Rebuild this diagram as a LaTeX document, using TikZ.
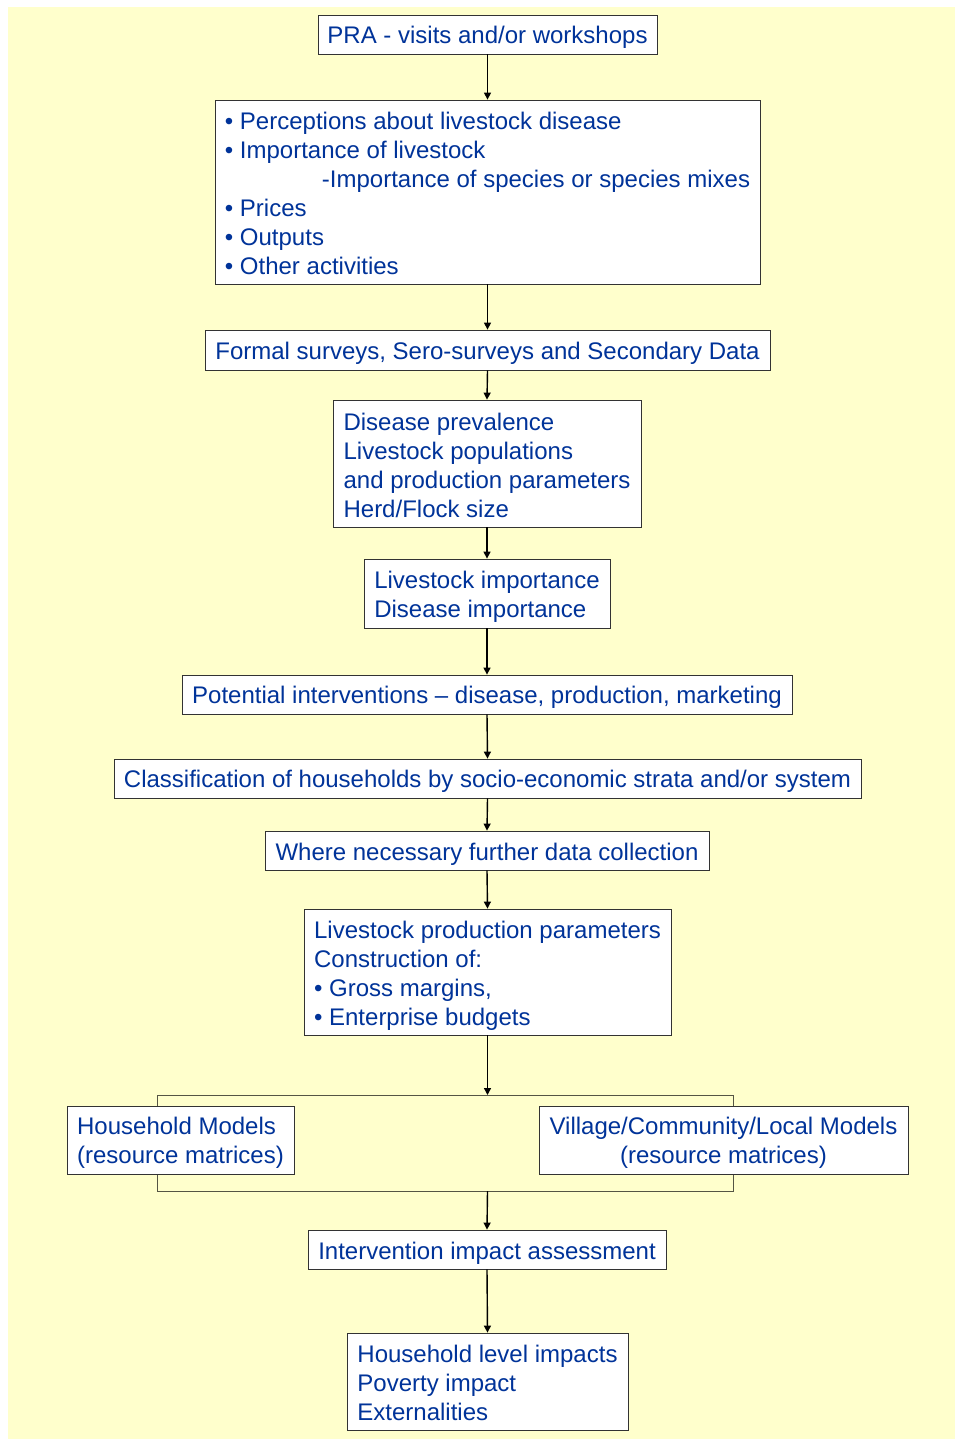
\documentclass[tikz,border=0pt]{standalone}
\usepackage{fontspec}
\setmainfont{Liberation Sans}
\usetikzlibrary{arrows.meta}
\definecolor{bgyellow}{HTML}{FFFFCC}
\definecolor{txtblue}{HTML}{003399}
\definecolor{boxline}{HTML}{333333}
\definecolor{barline}{HTML}{555544}
\begin{document}
\begin{tikzpicture}[x=1pt,y=1pt,
  frame/.style={draw=boxline, line width=0.8pt, fill=white, inner sep=0pt},
  txt/.style={text=txtblue, font=\fontsize{24}{29}\selectfont, align=left, inner sep=0pt},
  flow/.style={-{Triangle[length=7pt,width=7pt]}, line width=1.4pt, black},
  bar/.style={draw=barline, line width=1pt}
]
\useasboundingbox (0,0) rectangle (955,-1439);
\fill[white] (0,0) rectangle (955,-1439);
\fill[bgyellow] (8,-7) rectangle (955,-1439);

\node[frame, minimum width=339pt, minimum height=39pt] (pra) at (487.5,-34.5) {};
\node[txt] (prat) at ([yshift=-3pt]pra.center) {PRA - visits and/or workshops};

\node[frame, minimum width=545pt, minimum height=184pt] (perc) at (487.5,-192) {};
\node[txt] (perct) at ([yshift=-1pt]perc.center) {%
• Perceptions about livestock disease\\
• Importance of livestock\\
\hspace*{97pt}-Importance of species or species mixes\\
• Prices\\
• Outputs\\
• Other activities};

\node[frame, minimum width=565pt, minimum height=40pt] (formal) at (487.5,-350) {};
\node[txt] (formalt) at ([yshift=-3pt]formal.center) {Formal surveys, Sero-surveys and Secondary Data};

\node[frame, minimum width=308pt, minimum height=127pt] (prev) at (487,-463.5) {};
\node[txt] (prevt) at ([yshift=-2pt]prev.center) {Disease prevalence\\Livestock populations\\and production parameters\\Herd/Flock size};

\node[frame, minimum width=246pt, minimum height=69pt] (imp) at (487,-593.5) {};
\node[txt] (impt) at ([yshift=-3pt]imp.center) {Livestock importance\\Disease importance};

\node[frame, minimum width=610pt, minimum height=39pt] (pot) at (487,-694.5) {};
\node[txt] (pott) at ([yshift=-3pt]pot.center) {Potential interventions – disease, production, marketing};

\node[frame, minimum width=747pt, minimum height=39pt] (cls) at (487.5,-778.5) {};
\node[txt] (clst) at ([yshift=-3pt]cls.center) {Classification of households by socio-economic strata and/or system};

\node[frame, minimum width=444pt, minimum height=39pt] (where) at (487,-850.5) {};
\node[txt] (wheret) at ([yshift=-3.5pt]where.center) {Where necessary further data collection};

\node[frame, minimum width=367pt, minimum height=126pt] (par) at (487.5,-972) {};
\node[txt] (part) at ([yshift=-3.5pt]par.center) {Livestock production parameters\\Construction of:\\• Gross margins,\\• Enterprise budgets};

\coordinate (tl) at (157,-1095);
\coordinate (tm) at (487.5,-1095);
\coordinate (tr) at (733,-1095);
\coordinate (bl) at (157,-1191);
\coordinate (bm) at (487.5,-1191);
\coordinate (br) at (733,-1191);
\draw[bar] (157,-1106) -- (tl) -- (tr) -- (733,-1106);
\draw[bar] (157,-1174) -- (bl) -- (br) -- (733,-1174);

\node[frame, minimum width=227pt, minimum height=68pt] (hm) at (180.5,-1140) {};
\node[txt] (hmt) at ([yshift=-3pt]hm.center) {Household Models\\(resource matrices)};

\node[frame, minimum width=369pt, minimum height=68pt] (vm) at (723.5,-1140) {};
\node[txt, align=center] (vmt) at ([yshift=-3pt]vm.center) {Village/Community/Local Models\\(resource matrices)};

\node[frame, minimum width=358pt, minimum height=39pt] (ia) at (487,-1249.5) {};
\node[txt] (iat) at ([yshift=-3.5pt]ia.center) {Intervention impact assessment};

\node[frame, minimum width=281pt, minimum height=97pt] (hli) at (487.5,-1381.5) {};
\node[txt] (hlit) at ([yshift=-1.5pt]hli.center) {Household level impacts\\Poverty impact\\Externalities};

\draw[flow] (pra.south) -- (perc.north);
\draw[flow] (perc.south) -- (formal.north);
\draw[flow] (formal.south) -- (prev.north);
\draw[flow] (prev.south) -- (imp.north);
\draw[flow] (imp.south) -- (pot.north);
\draw[flow] (pot.south) -- (cls.north);
\draw[flow] (cls.south) -- (where.north);
\draw[flow] (where.south) -- (par.north);
\draw[flow] (par.south) -- (tm);
\draw[flow] (bm) -- (ia.north);
\draw[flow] (ia.south) -- (hli.north);
\end{tikzpicture}
\end{document}
